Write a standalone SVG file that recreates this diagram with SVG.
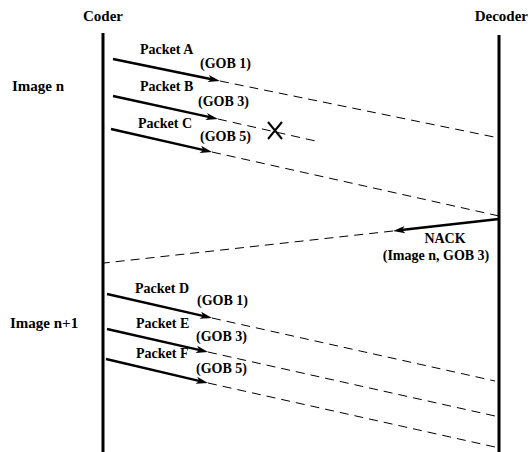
<svg xmlns="http://www.w3.org/2000/svg" width="531" height="452" viewBox="0 0 531 452">
  <style>
    text { font-family: "Liberation Serif", "Times New Roman", serif; font-weight: bold; fill: #000; }
    .head { font-size: 15px; }
    .lbl { font-size: 14px; }
    .life { stroke: #000; stroke-width: 3; }
    .pkt { stroke: #000; stroke-width: 2.4; fill: none; }
    .dash { stroke: #000; stroke-width: 1; stroke-dasharray: 9 6; fill: none; }
  </style>
  <defs>
    <marker id="head" markerUnits="userSpaceOnUse" viewBox="-7 -5 14 10" markerWidth="14" markerHeight="10" refX="0" refY="0" orient="auto" overflow="visible">
      <path d="M6,0 L-6,-3.6 L-3,0 L-6,3.6 Z" fill="#000"/>
    </marker>
  </defs>

  <rect width="531" height="452" fill="#fff"/>

  <!-- lifelines -->
  <g id="coder">
    <line class="life" x1="103" y1="33" x2="103" y2="452"/>
    <text class="head" x="83" y="21">Coder</text>
  </g>
  <g id="decoder">
    <line class="life" x1="499" y1="35" x2="499" y2="452"/>
    <text class="head" x="528" y="21" text-anchor="end">Decoder</text>
  </g>

  <!-- image labels -->
  <g id="image-n">
    <text class="head" x="12" y="91">Image n</text>
  </g>
  <g id="image-n1">
    <text class="head" x="10" y="328">Image n+1</text>
  </g>

  <!-- messages -->
  <g id="connectors">
    <line class="pkt" x1="113" y1="59" x2="214.1" y2="79.8" marker-end="url(#head)"/>
    <line class="dash" x1="220" y1="81" x2="499" y2="138"/>

    <line class="pkt" x1="113" y1="96" x2="212.1" y2="117.7" marker-end="url(#head)"/>
    <line class="dash" x1="218" y1="119" x2="320" y2="142"/>

    <line class="pkt" x1="111" y1="129" x2="206.2" y2="150.7" marker-end="url(#head)"/>
    <line class="dash" x1="212" y1="152" x2="499" y2="216"/>

    <line class="pkt" x1="499" y1="219" x2="399" y2="230.3" marker-end="url(#head)"/>
    <line class="dash" x1="393" y1="231" x2="104" y2="263"/>

    <line class="pkt" x1="107" y1="294" x2="206.2" y2="316.7" marker-end="url(#head)"/>
    <line class="dash" x1="212" y1="318" x2="495" y2="381"/>

    <line class="pkt" x1="107" y1="329" x2="202.2" y2="350.7" marker-end="url(#head)"/>
    <line class="dash" x1="208" y1="352" x2="495" y2="416"/>

    <line class="pkt" x1="106" y1="359" x2="202.2" y2="381.6" marker-end="url(#head)"/>
    <line class="dash" x1="208" y1="383" x2="495" y2="447"/>
  </g>

  <!-- loss mark on packet B -->
  <g id="loss">
    <path d="M268,122 L282,139 M282,122 L268,139" stroke="#000" stroke-width="2" fill="none"/>
  </g>

  <g id="packet-a"><text class="lbl" x="140" y="54">Packet A</text><text class="lbl" x="200" y="68">(GOB 1)</text></g>
  <g id="packet-b"><text class="lbl" x="140" y="91">Packet B</text><text class="lbl" x="198" y="106">(GOB 3)</text></g>
  <g id="packet-c"><text class="lbl" x="138" y="128">Packet C</text><text class="lbl" x="200" y="141">(GOB 5)</text></g>
  <g id="nack"><text class="lbl" x="445" y="243" text-anchor="middle">NACK</text><text class="lbl" x="436" y="260" text-anchor="middle">(Image n, GOB 3)</text></g>
  <g id="packet-d"><text class="lbl" x="135" y="293">Packet D</text><text class="lbl" x="197" y="305">(GOB 1)</text></g>
  <g id="packet-e"><text class="lbl" x="136" y="328">Packet E</text><text class="lbl" x="196" y="341">(GOB 3)</text></g>
  <g id="packet-f"><text class="lbl" x="136" y="358">Packet F</text><text class="lbl" x="196" y="373">(GOB 5)</text></g>
</svg>
